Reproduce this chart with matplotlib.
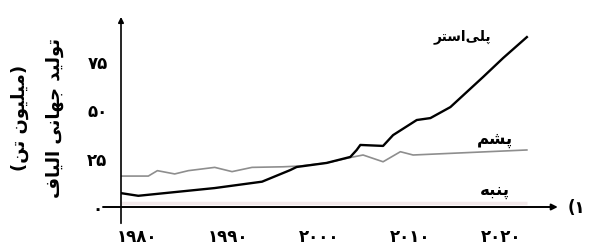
import matplotlib
matplotlib.use("Agg")
import matplotlib.pyplot as plt
import matplotlib.transforms as mtrans

# ---- data ----
poly_years = [1980.1, 1981.9, 1990.3, 1995.5, 1998.6, 1999.3, 2002.6, 2005.2, 2005.9, 2006.3,
              2008.8, 2009.9, 2012.5, 2014.0, 2016.2, 2019.8, 2022.0, 2024.6]
poly_vals = [7.1, 5.8, 9.8, 13.1, 19.1, 20.7, 22.8, 25.9, 29.5, 32.1,
             31.6, 37.2, 45.0, 46.0, 51.7, 67.3, 77.1, 87.9]

gray_years = [1980.0, 1983.0, 1984.0, 1985.9, 1987.4, 1990.3, 1992.2, 1994.4, 1997.8, 1999.7,
              2002.6, 2005.2, 2006.6, 2008.8, 2010.7, 2012.1, 2024.6]
gray_vals = [16.0, 16.0, 18.8, 17.1, 18.8, 20.5, 18.3, 20.5, 20.8, 21.2,
             22.8, 25.6, 26.9, 23.4, 28.6, 26.9, 29.5]

faint_years = [1980.0, 2024.6]
faint_vals = [2.0, 2.0]

yticks = [0, 25, 50, 75]
ytick_labels = ["\u06f0", "\u06f2\u06f5", "\u06f5\u06f0", "\u06f7\u06f5"]
xticks = [1980, 1990, 2000, 2010, 2020]
xtick_labels = ["\u06f1\u06f9\u06f8\u06f0", "\u06f1\u06f9\u06f9\u06f0", "\u06f2\u06f0\u06f0\u06f0",
                "\u06f2\u06f0\u06f1\u06f0", "\u06f2\u06f0\u06f2\u06f0"]

# Persian labels, pre-shaped (presentation forms, visual order)
lbl_poly = "\uFEAE\uFE98\uFEB3\uFE8D\uFBFD\uFEE0\uFB58"          # پلی‌استر
lbl_wool = "\uFEE2\uFEB8\uFB58"                                  # پشم
lbl_cotton = "\uFEEA\uFE92\uFEE8\uFB58"                          # پنبه
ylab1 = ("\uFED1\uFE8E\uFBFF\uFEDF\uFE8D" + " " +
         "\uFBFD\uFEE7\uFE8E\uFEEC\uFE9F" + " " +
         "\uFEAA\uFBFF\uFEDF\uFEEE\uFE97")                      # تولید جهانی الیاف
ylab2 = "(" + "\uFEE6\uFE97" + " " + "\uFEE5\uFEEE\uFBFF\uFEE0\uFBFF\uFEE3" + ")"  # (میلیون تن)
fig_label = "(\u06f1"

plt.rcParams['font.family'] = ['DejaVu Sans']

W, H = 592, 248
fig = plt.figure(figsize=(W / 100, H / 100), dpi=100)
ax_left, ax_right, ax_bottom, ax_top = 121, 560, 207, 15
ax = fig.add_axes([ax_left / W, (H - ax_bottom) / H, (ax_right - ax_left) / W, (ax_bottom - ax_top) / H])
xpx = 9.1
ypx = 1.933
ax.set_xlim(1980, 1980 + (ax_right - ax_left) / xpx)
ax.set_ylim(0, (ax_bottom - ax_top) / ypx)
for s in ax.spines.values():
    s.set_visible(False)

ax.plot(faint_years, faint_vals, color="#f3e9eb", lw=2.5, solid_capstyle='butt', zorder=1)
ax.plot(gray_years, gray_vals, color="#8e8e8e", lw=1.2, zorder=2)
ax.plot(poly_years, poly_vals, color="black", lw=1.7, zorder=3)

# axes with arrows
ax.annotate("", xy=(0.995, 0), xytext=(-0.041, 0), xycoords='axes fraction',
            arrowprops=dict(arrowstyle="-|>", color="black", lw=1.4, mutation_scale=9, shrinkA=0, shrinkB=0),
            annotation_clip=False)
ax.annotate("", xy=(0, 0.99), xytext=(0, -0.085), xycoords='axes fraction',
            arrowprops=dict(arrowstyle="-|>", color="black", lw=1.2, mutation_scale=8, shrinkA=0, shrinkB=0),
            annotation_clip=False)

ax.set_yticks(yticks)
ax.set_yticklabels(ytick_labels, fontsize=12, fontweight='bold', ha='center')
ax.tick_params(axis='y', length=0, pad=17)
ax.set_xticks(xticks)
ax.set_xticklabels(xtick_labels, fontsize=12, fontweight='bold')
ax.tick_params(axis='x', length=0, pad=15)
off = mtrans.ScaledTranslation(16 / 100, 0, fig.dpi_scale_trans)
for t in ax.get_xticklabels():
    t.set_transform(t.get_transform() + off)

ax.text(2017.5, 87.9, lbl_poly, fontsize=10, ha='center', va='center', fontweight='bold')
ax.text(2021.1, 35.2, lbl_wool, fontsize=12, ha='center', va='center', fontweight='bold')
ax.text(2021.1, 8.8, lbl_cotton, fontsize=12, ha='center', va='center', fontweight='bold')
ax.text(2030.1, -0.5, fig_label, fontsize=12, ha='center', va='center', fontweight='bold', clip_on=False)

ax.text((55 - ax_left) / (ax_right - ax_left), (ax_bottom - 118) / (ax_bottom - ax_top), ylab1,
        transform=ax.transAxes, rotation=90, fontsize=13, ha='center', va='center', fontweight='bold')
ax.text((20 - ax_left) / (ax_right - ax_left), (ax_bottom - 118) / (ax_bottom - ax_top), ylab2,
        transform=ax.transAxes, rotation=90, fontsize=13, ha='center', va='center', fontweight='bold')

fig.savefig("out.png", dpi=100)
